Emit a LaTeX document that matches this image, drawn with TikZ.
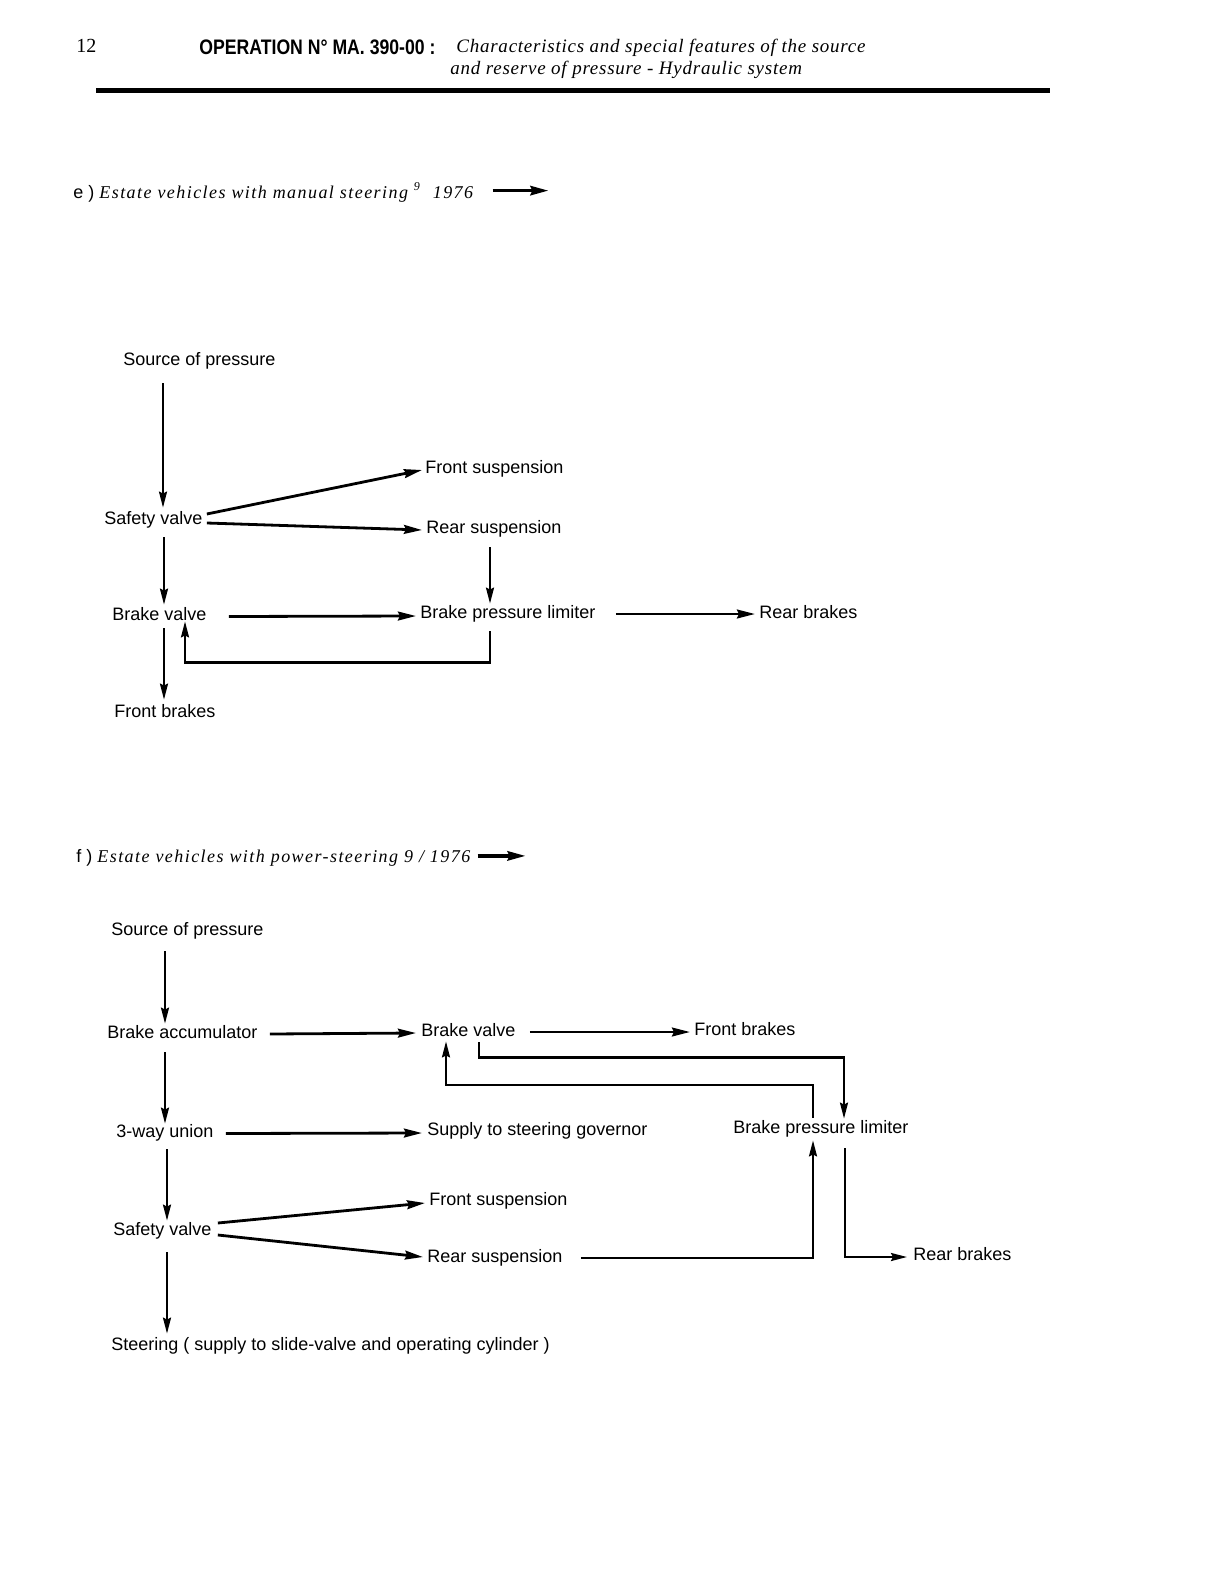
\documentclass[tikz,border=0pt]{standalone}
\usepackage{fontspec}
\setmainfont{Liberation Sans}
\newfontfamily\hdbold{Liberation Sans}
\newfontfamily\hdit[LetterSpace=4]{Liberation Serif}
\newfontfamily\ttit[LetterSpace=8]{Liberation Serif}
\newfontfamily\hdnum{Liberation Serif}
\usetikzlibrary{arrows.meta,calc}
\begin{document}
\begin{tikzpicture}[x=0.5pt,y=-0.5pt,
  lbl/.style={anchor=base west, inner sep=0pt, text height=6.5pt, text depth=2pt, font=\fontsize{9}{11}\selectfont},
  ttl/.style={anchor=base west, inner sep=0pt, font=\fontsize{9}{11}\selectfont},
  arr/.style={line width=1.4pt, -{Stealth[length=9pt,width=4.4pt,inset=1pt]}},
  varr/.style={line width=1.1pt, -{Stealth[length=8pt,width=4pt,inset=1pt]}},
  pipe/.style={line width=1.1pt, line join=miter},
  ptip/.style={-{Stealth[length=8pt,width=4pt,inset=1pt]}},
  bigarr/.style={line width=1.8pt, -{Stealth[length=9pt,width=4.6pt,inset=1pt]}}]
\useasboundingbox (0,0) rectangle (1224,1584);
\fill[white] (0,0) rectangle (1224,1584);

% ---------- header ----------
\node[ttl, font=\hdnum\fontsize{10}{12}\selectfont] (pgno) at (76,53) {12};
\node[ttl, font=\hdbold\bfseries\fontsize{10.5}{12}\selectfont] (op) at (199,55) {\scalebox{0.84}[1]{OPERATION N° MA. 390-00 :}};
\node[ttl, font=\hdit\itshape\fontsize{9.5}{11}\selectfont] (hd1) at (456,53) {Characteristics and special features of the source};
\node[ttl, font=\hdit\itshape\fontsize{9.5}{11}\selectfont] (hd2) at (450,75) {and reserve of pressure - Hydraulic system};
\draw[line width=2.5pt] (96,91) -- (1050,91);

% ---------- diagram e ----------
\node[ttl] (titleE) at (73,198) {e )\ {\ttit\itshape Estate vehicles with manual steering \textsuperscript{9}\ \ 1976}};
\draw[bigarr] ($(titleE.east)+(19,-1.5)$) -- ++(56,0);

\node[lbl] (sopE) at (123,365) {Source of pressure};
\node[lbl] (svE)  at (104,524) {Safety valve};
\node[lbl] (fsE)  at (425,473) {Front suspension};
\node[lbl] (rsE)  at (426,533) {Rear suspension};
\node[lbl] (bvE)  at (112,620) {Brake valve};
\node[lbl] (bplE) at (420,618) {Brake pressure limiter};
\node[lbl] (rbE)  at (759,618) {Rear brakes};
\node[lbl] (fbE)  at (114,717) {Front brakes};

\coordinate (xEa) at (163,0);
\coordinate (xEb) at (164,0);
\coordinate (xEc) at (490,0);
\coordinate (xEd) at (185,0);

\draw[varr] ($(sopE.south -| xEa)+(0,14)$) -- ($(svE.north -| xEa)+(0,-3)$);
\draw[arr] ($(svE.east)+(4,-5.5)$) -- ($(fsE.west)+(-3,1.5)$);
\draw[arr] ($(svE.east)+(4,3.5)$) -- ($(rsE.west)+(-4,1.5)$);
\draw[varr] ($(svE.south -| xEb)+(0,9)$) -- ($(bvE.north -| xEb)+(0,-2)$);
\draw[arr] ($(bvE.east)+(22,1)$) -- ($(bplE.west)+(-4,2.5)$);
\draw[varr] ($(rsE.south -| xEc)+(0,10)$) -- ($(bplE.north -| xEc)+(0,-1)$);
\draw[arr] ($(bplE.east)+(20,0.5)$) -- ($(rbE.west)+(-4,0.5)$);
\draw[pipe, ptip] ($(bplE.south -| xEc)+(0,9)$) -- ++(0,31) -| ($(bvE.south -| xEd)+(0,-3)$);
\draw[varr] ($(bvE.south -| xEb)+(0,4)$) -- ($(fbE.north -| xEb)+(0,-4)$);

% ---------- diagram f ----------
\node[ttl] (titleF) at (76,862) {f )\ {\ttit\itshape Estate vehicles with power-steering 9 / 1976}};
\draw[bigarr] ($(titleF.east)+(7,-1.5)$) -- ++(48,0);

\node[lbl] (sopF) at (111,935)  {Source of pressure};
\node[lbl] (baF)  at (107,1038) {Brake accumulator};
\node[lbl] (bvF)  at (421,1036) {Brake valve};
\node[lbl] (fbF)  at (694,1035) {Front brakes};
\node[lbl] (twF)  at (116,1137) {3-way union};
\node[lbl] (supF) at (427,1135) {Supply to steering governor};
\node[lbl] (bplF) at (733,1133) {Brake pressure limiter};
\node[lbl] (svF)  at (113,1235) {Safety valve};
\node[lbl] (fsF)  at (429,1205) {Front suspension};
\node[lbl] (rsF)  at (427,1262) {Rear suspension};
\node[lbl] (rbF)  at (913,1260) {Rear brakes};
\node[lbl] (stF)  at (111,1350) {Steering ( supply to slide-valve and operating cylinder )};

\coordinate (xFa) at (165,0);
\coordinate (xFb) at (479,0);
\coordinate (xFc) at (844,0);
\coordinate (xFd) at (813,0);
\coordinate (xFe) at (446,0);
\coordinate (xFf) at (167,0);
\coordinate (xFg) at (845,0);

\draw[varr] ($(sopF.south -| xFa)+(0,12)$) -- ($(baF.north -| xFa)+(0,-1)$);
\draw[arr] ($(baF.east)+(12,0.5)$) -- ($(bvF.west)+(-5,1.5)$);
\draw[arr] ($(bvF.east)+(14,0.5)$) -- ($(fbF.west)+(-4,1.5)$);
\draw[pipe, ptip] ($(bvF.south -| xFb)+(0,2)$) -- ++(0,15) -| ($(bplF.north -| xFc)+(0,-1)$);
\draw[pipe, ptip] ($(bplF.north -| xFd)+(0,-2)$) -- ++(0,-33) -| ($(bvF.south -| xFe)+(0,1)$);
\draw[varr] ($(baF.south -| xFa)+(0,10)$) -- ($(twF.north -| xFa)+(0,0)$);
\draw[arr] ($(twF.east)+(12,1)$) -- ($(supF.west)+(-5,2.5)$);
\draw[varr] ($(twF.south -| xFf)+(0,8)$) -- ($(svF.north -| xFf)+(0,-1)$);
\draw[arr] ($(svF.east)+(6,-7.5)$) -- ($(fsF.west)+(-4,2.5)$);
\draw[arr] ($(svF.east)+(6,4.5)$) -- ($(rsF.west)+(-4,-0.5)$);
\draw[pipe, ptip] ($(rsF.east)+(18,0.5)$) -| ($(bplF.south -| xFd)+(0,3)$);
\draw[pipe, ptip] ($(bplF.south -| xFg)+(0,11)$) |- ($(rbF.west)+(-6,1.5)$);
\draw[varr] ($(svF.south -| xFf)+(0,13)$) -- ($(stF.north -| xFf)+(0,-3)$);
\end{tikzpicture}
\end{document}
